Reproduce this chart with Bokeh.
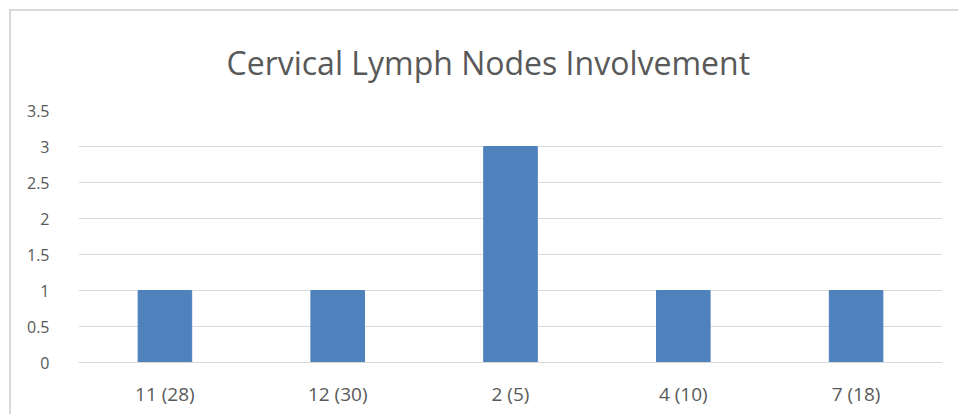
from bokeh.plotting import figure
from bokeh.models import Range1d, ColumnDataSource
from bokeh.embed import file_html
from bokeh.resources import INLINE

title_text = "Cervical Lymph Nodes Involvement"
categories = ["11 (28)", "12 (30)", "2 (5)", "4 (10)", "7 (18)"]
values = [1, 1, 3, 1, 1]
y_ticks = [0, 0.5, 1, 1.5, 2, 2.5, 3, 3.5]

src = ColumnDataSource(dict(cat=categories, val=values))

p = figure(x_range=categories, y_range=Range1d(0, 3.5), width=949, height=405,
           output_backend="svg", toolbar_location=None,
           title=title_text,
           min_border_left=67, min_border_right=18, min_border_top=99, min_border_bottom=54)
p.styles = {"border-top": "2px solid #d9d9d9", "border-left": "2px solid #d9d9d9",
            "margin-left": "9px", "margin-top": "9px"}
p.vbar(x="cat", top="val", width=0.31, source=src, color="#4F81BD")

p.title.align = "left"
p.title.text_font = "Open Sans"
p.title.text_font_style = "normal"
p.title.text_font_size = "32px"
p.title.text_color = "#595959"
p.title.standoff = 53
p.title.offset = 148

p.outline_line_color = None
p.xgrid.grid_line_color = None
p.ygrid.grid_line_color = "#D9D9D9"
p.ygrid.grid_line_width = 1
p.yaxis.ticker = y_ticks
p.yaxis.axis_line_color = None
p.yaxis.major_tick_line_color = None
p.yaxis.minor_tick_line_color = None
p.yaxis.major_label_standoff = 23
p.xaxis.axis_line_color = "#D9D9D9"
p.xaxis.major_tick_line_color = None
p.xaxis.minor_tick_line_color = None
p.xaxis.major_label_standoff = 12
p.xaxis.major_label_text_font_size = "19px"
p.yaxis.major_label_text_font_size = "16px"
for ax in (p.xaxis, p.yaxis):
    ax.major_label_text_font = "Open Sans"
    ax.major_label_text_color = "#595959"

open("out.html", "w").write(file_html(p, INLINE))
